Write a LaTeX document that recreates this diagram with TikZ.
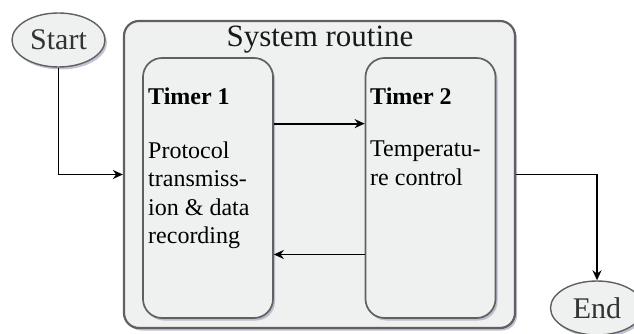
\documentclass[tikz,border=0pt]{standalone}
\usepackage{fontspec}
\setmainfont{Liberation Serif}
\usetikzlibrary{shapes.geometric,shadows,arrows.meta,calc}
\definecolor{boxfill}{HTML}{EFF0F0}
\definecolor{boxline}{HTML}{606060}
\definecolor{shadowc}{HTML}{9A9AB8}
\tikzset{
  shad/.style={drop shadow={shadow xshift=2pt,shadow yshift=-2.5pt,fill=shadowc,opacity=0.6}},
  termbox/.style={ellipse,draw=boxline,line width=1.4pt,fill=boxfill,shad,inner sep=0pt,
    minimum width=93pt,minimum height=54pt,text=black!80,font=\fontsize{30}{36}\selectfont},
  outerbox/.style={rectangle,rounded corners=15pt,draw=boxline,line width=2.2pt,fill=boxfill,shad,inner sep=0pt},
  timerbox/.style={rectangle,rounded corners=19pt,draw=boxline,line width=1.7pt,fill=boxfill,shad,inner sep=0pt,
    minimum width=130pt,minimum height=260pt},
  lbl/.style={anchor=base west,inner sep=0pt,font=\fontsize{24}{28.5}\selectfont,align=left},
  arr/.style={line width=1.8pt,-{Stealth[length=10pt,width=9pt]}}
}
\begin{document}
\begin{tikzpicture}[x=1pt,y=-1pt]
\useasboundingbox (0,0) rectangle (634,334);
\node[outerbox,minimum width=391pt,minimum height=307pt] (big) at (319.5,174.5) {};
\node[anchor=base,inner sep=0pt,text=black!90,font=\fontsize{31}{37}\selectfont] (title) at (320,47) {System routine};
\node[timerbox] (t1) at (208,188) {};
\node[timerbox] (t2) at (430.5,188) {};
\node[lbl] (t1h) at (148,105) {\textbf{Timer 1}};
\node[lbl] (t1b) at (148,243.5) {Protocol\\transmiss-\\ion \& data\\recording};
\node[lbl] (t2h) at (370,105) {\textbf{Timer 2}};
\node[lbl] (t2b) at (370,185.5) {Temperatu-\\re control};
\node[termbox] (start) at (58.5,40) {Start};
\node[termbox] (end) at (597,308) {End};
\draw[arr] (start.south) |- (big.west);
\draw[arr] (big.east) -| (end.north);
\draw[arr] ($(t1.north east)!0.254!(t1.south east)$) -- ($(t2.north west)!0.254!(t2.south west)$);
\draw[arr] ($(t2.north west)!0.754!(t2.south west)$) -- ($(t1.north east)!0.754!(t1.south east)$);
\end{tikzpicture}
\end{document}
